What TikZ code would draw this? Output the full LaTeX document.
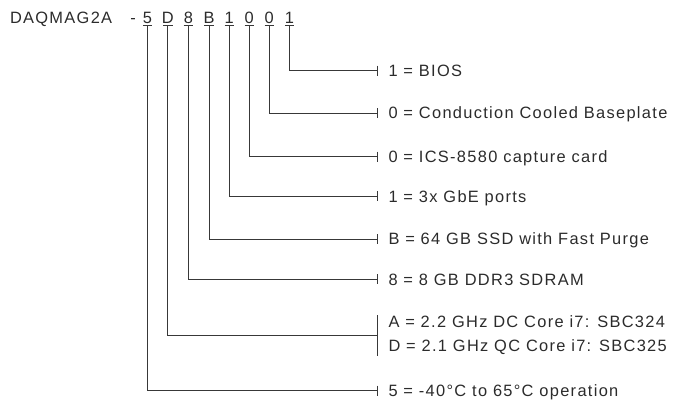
\documentclass[tikz,border=0pt]{standalone}
\usepackage{fontspec}
\setmainfont{Liberation Sans}[LetterSpace=8]
\usetikzlibrary{arrows.meta}
\definecolor{ink}{HTML}{2B2B2B}
\definecolor{wire}{HTML}{383838}
\tikzset{
  txt/.style={inner sep=0pt, outer sep=0pt, text=ink, font=\fontsize{16.4}{19}\selectfont},
  code/.style={txt, anchor=base},
  lab/.style={txt, anchor=base west},
  uline/.style={draw=wire, line width=0.9pt},
  conn/.style={draw=wire, line width=0.9pt, -{Bar[width=10pt]}},
  conntall/.style={draw=wire, line width=0.9pt, -{Bar[width=41pt]}},
}
\begin{document}
\begin{tikzpicture}[x=1pt, y=-1pt]
\useasboundingbox (0,0) rectangle (674,399);
% title
\node[lab] (title) at (10,23.5) {DAQMAG2A};
\node[code] (dash) at (133,23.5) {-};
% code characters
\node[code] (c1) at (147.5,23.5) {5};
\node[code] (c2) at (167.8,23.5) {D};
\node[code] (c3) at (188.4,23.5) {8};
\node[code] (c4) at (209.0,23.5) {B};
\node[code] (c5) at (229.3,23.5) {1};
\node[code] (c6) at (249.3,23.5) {0};
\node[code] (c7) at (269.3,23.5) {0};
\node[code] (c8) at (289.5,23.5) {1};
% underlines and their start points
\foreach \i in {1,...,8}{
  \draw[uline] ([shift={(-4.7,1.5)}]c\i.base) -- ([shift={(4.7,1.5)}]c\i.base);
  \coordinate (u\i) at ([shift={(0,1.5)}]c\i.base);
}
% bar end points
\coordinate (e8) at (378,70.5);
\coordinate (e7) at (378,113.2);
\coordinate (e6) at (378,156.6);
\coordinate (e5) at (378,196.3);
\coordinate (e4) at (378,239);
\coordinate (e3) at (378,279.4);
\coordinate (e2) at (378,335.6);
\coordinate (e1) at (378,390.5);
% labels
\node[lab] (l8) at (388.5,76.2) {1 = BIOS};
\node[lab] (l7) at (388.5,118.9) {0 = Conduction Cooled Baseplate};
\node[lab] (l6) at (388.5,162.3) {0 = ICS-8580 capture card};
\node[lab] (l5) at (388.5,202.0) {1 = 3x GbE ports};
\node[lab] (l4) at (388.5,244.7) {B = 64 GB SSD with Fast Purge};
\node[lab] (l3) at (388.5,285.1) {8 = 8 GB DDR3 SDRAM};
\node[lab] (l2a) at (388.5,327.4) {A = 2.2 GHz DC Core i7: SBC324};
\node[lab] (l2b) at (388.5,351.8) {D = 2.1 GHz QC Core i7: SBC325};
\node[lab] (l1) at (388.5,396.2) {5 = -40°C to 65°C operation};
% connectors
\draw[conn] (u8) |- (e8);
\draw[conn] (u7) |- (e7);
\draw[conn] (u6) |- (e6);
\draw[conn] (u5) |- (e5);
\draw[conn] (u4) |- (e4);
\draw[conn] (u3) |- (e3);
\draw[conntall] (u2) |- (e2);
\draw[conn] (u1) |- (e1);
\end{tikzpicture}
\end{document}
